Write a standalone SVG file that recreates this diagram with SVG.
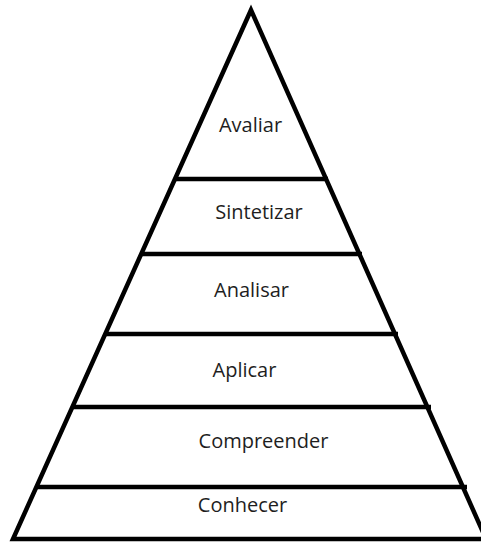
<svg xmlns="http://www.w3.org/2000/svg" width="481" height="543" viewBox="0 0 481 543">
<style>
.edge{stroke:#000;stroke-width:4.5;fill:none;stroke-linejoin:miter}
.lbl{font-family:"Open Sans","Noto Sans","Liberation Sans",sans-serif;font-size:20px;fill:#1e1e1e;text-anchor:middle}
</style>
<rect width="481" height="543" fill="#fff"/>
<g id="pyramid">
<polygon class="edge" points="251,10 13,539 486,539"/>
<line class="edge" x1="175" y1="179" x2="328" y2="179"/>
<line class="edge" x1="141" y1="254" x2="362" y2="254"/>
<line class="edge" x1="105" y1="334" x2="398" y2="334"/>
<line class="edge" x1="72" y1="407" x2="431" y2="407"/>
<line class="edge" x1="36" y1="487" x2="467" y2="487"/>
</g>
<g id="avaliar"><text class="lbl" x="250.5" y="132">Avaliar</text></g>
<g id="sintetizar"><text class="lbl" x="259" y="219">Sintetizar</text></g>
<g id="analisar"><text class="lbl" x="251.5" y="297">Analisar</text></g>
<g id="aplicar"><text class="lbl" x="244.5" y="377">Aplicar</text></g>
<g id="compreender"><text class="lbl" x="263.5" y="448">Compreender</text></g>
<g id="conhecer"><text class="lbl" x="242.5" y="512">Conhecer</text></g>
<g id="connectors"></g>
</svg>
